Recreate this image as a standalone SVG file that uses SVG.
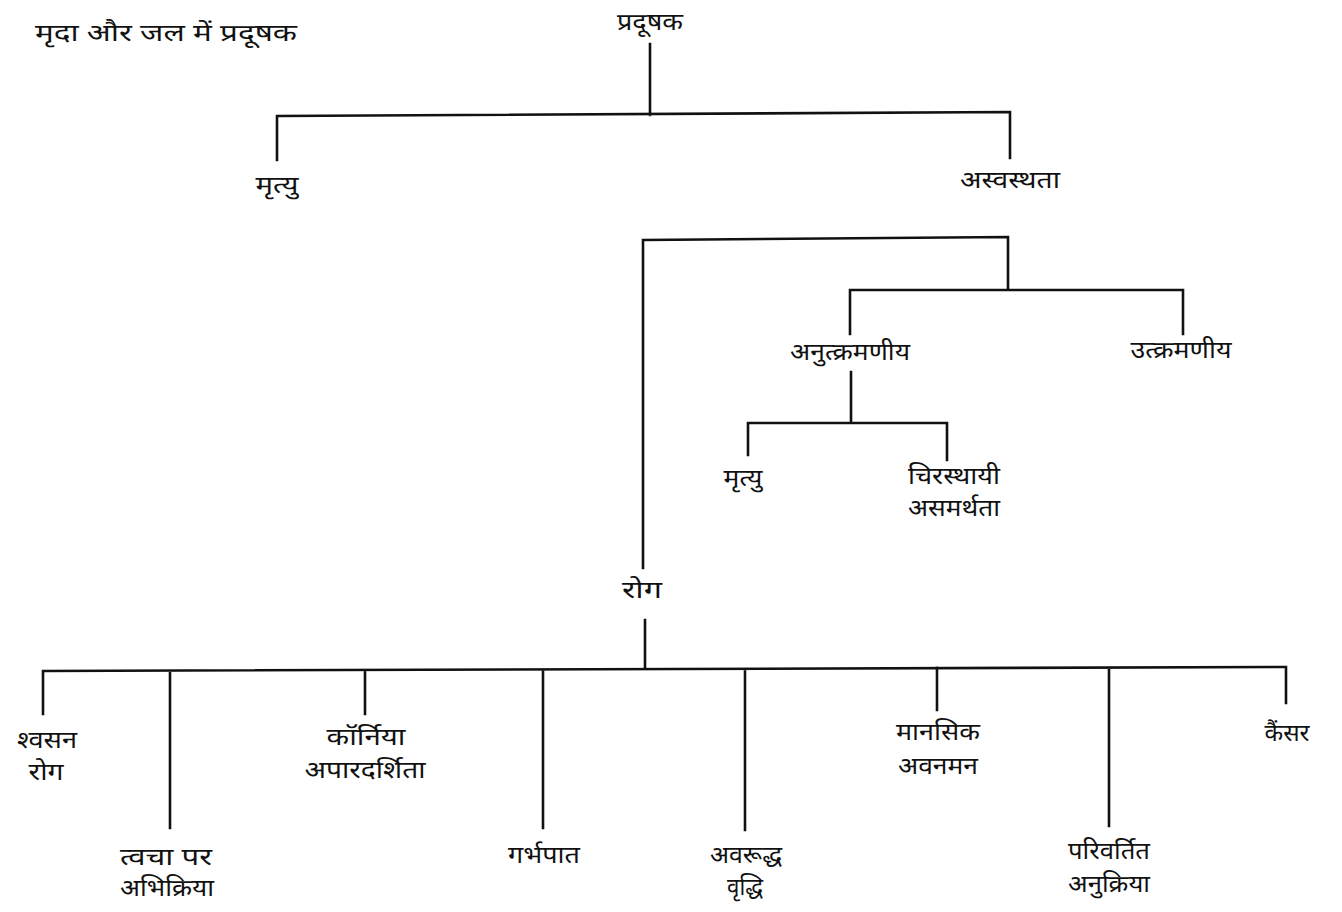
<svg xmlns="http://www.w3.org/2000/svg" width="1342" height="912" viewBox="0 0 1342 912">
<style>
text{font-family:"Noto Sans","Noto Sans Devanagari","Lohit Devanagari",sans-serif;font-size:24px;fill:#111;text-anchor:middle}
.t{text-anchor:start}
.c{fill:none;stroke:#111;stroke-width:2.6;stroke-linecap:square}
</style>
<rect width="1342" height="912" fill="#fff"/>
<text class="t" x="35" y="41" textLength="262" lengthAdjust="spacingAndGlyphs">मृदा और जल में प्रदूषक</text>
<g id="connectors">
<path class="c" d="M650 44V115M277 160V116L1010 112V158"/>
<path class="c" d="M643 568V240L1008 237V290M850 334V290H1183V334"/>
<path class="c" d="M851 372V422M748 455V423H947V460"/>
<path class="c" d="M645 620V668M43 714V671L1286 667V703M170 671V828M365 670V714M543 670V828M745 669V830M937 668V710M1109 668V826"/>
</g>
<g id="n-pradushak"><text x="650" y="30" textLength="66" lengthAdjust="spacingAndGlyphs">प्रदूषक</text></g>
<g id="n-mrityu1"><text x="277" y="193" textLength="43" lengthAdjust="spacingAndGlyphs">मृत्यु</text></g>
<g id="n-asvasthata"><text x="1010" y="188" textLength="100" lengthAdjust="spacingAndGlyphs">अस्वस्थता</text></g>
<g id="n-anutkramaniya"><text x="850" y="360" textLength="120" lengthAdjust="spacingAndGlyphs">अनुत्क्रमणीय</text></g>
<g id="n-utkramaniya"><text x="1181" y="358" textLength="101" lengthAdjust="spacingAndGlyphs">उत्क्रमणीय</text></g>
<g id="n-mrityu2"><text x="743" y="486" textLength="39" lengthAdjust="spacingAndGlyphs">मृत्यु</text></g>
<g id="n-chirasthayi"><text x="954" y="484" textLength="92" lengthAdjust="spacingAndGlyphs">चिरस्थायी</text><text x="954" y="516" textLength="92" lengthAdjust="spacingAndGlyphs">असमर्थता</text></g>
<g id="n-rog"><text x="642" y="598" textLength="40" lengthAdjust="spacingAndGlyphs">रोग</text></g>
<g id="n-shvasan"><text x="47" y="748" textLength="60" lengthAdjust="spacingAndGlyphs">श्वसन</text><text x="46" y="780" textLength="35" lengthAdjust="spacingAndGlyphs">रोग</text></g>
<g id="n-tvacha"><text x="166" y="865" textLength="92" lengthAdjust="spacingAndGlyphs">त्वचा पर</text><text x="167" y="896" textLength="94" lengthAdjust="spacingAndGlyphs">अभिक्रिया</text></g>
<g id="n-cornea"><text x="366" y="745" textLength="79" lengthAdjust="spacingAndGlyphs">कॉर्निया</text><text x="365" y="778" textLength="121" lengthAdjust="spacingAndGlyphs">अपारदर्शिता</text></g>
<g id="n-garbhapat"><text x="544" y="863" textLength="72" lengthAdjust="spacingAndGlyphs">गर्भपात</text></g>
<g id="n-avaruddh"><text x="746" y="863" textLength="72" lengthAdjust="spacingAndGlyphs">अवरूद्ध</text><text x="745" y="895" textLength="36" lengthAdjust="spacingAndGlyphs">वृद्धि</text></g>
<g id="n-mansik"><text x="938" y="740" textLength="84" lengthAdjust="spacingAndGlyphs">मानसिक</text><text x="938" y="774" textLength="80" lengthAdjust="spacingAndGlyphs">अवनमन</text></g>
<g id="n-parivartit"><text x="1109" y="859" textLength="82" lengthAdjust="spacingAndGlyphs">परिवर्तित</text><text x="1109" y="892" textLength="82" lengthAdjust="spacingAndGlyphs">अनुक्रिया</text></g>
<g id="n-cancer"><text x="1287" y="741" textLength="45" lengthAdjust="spacingAndGlyphs">कैंसर</text></g>
</svg>
